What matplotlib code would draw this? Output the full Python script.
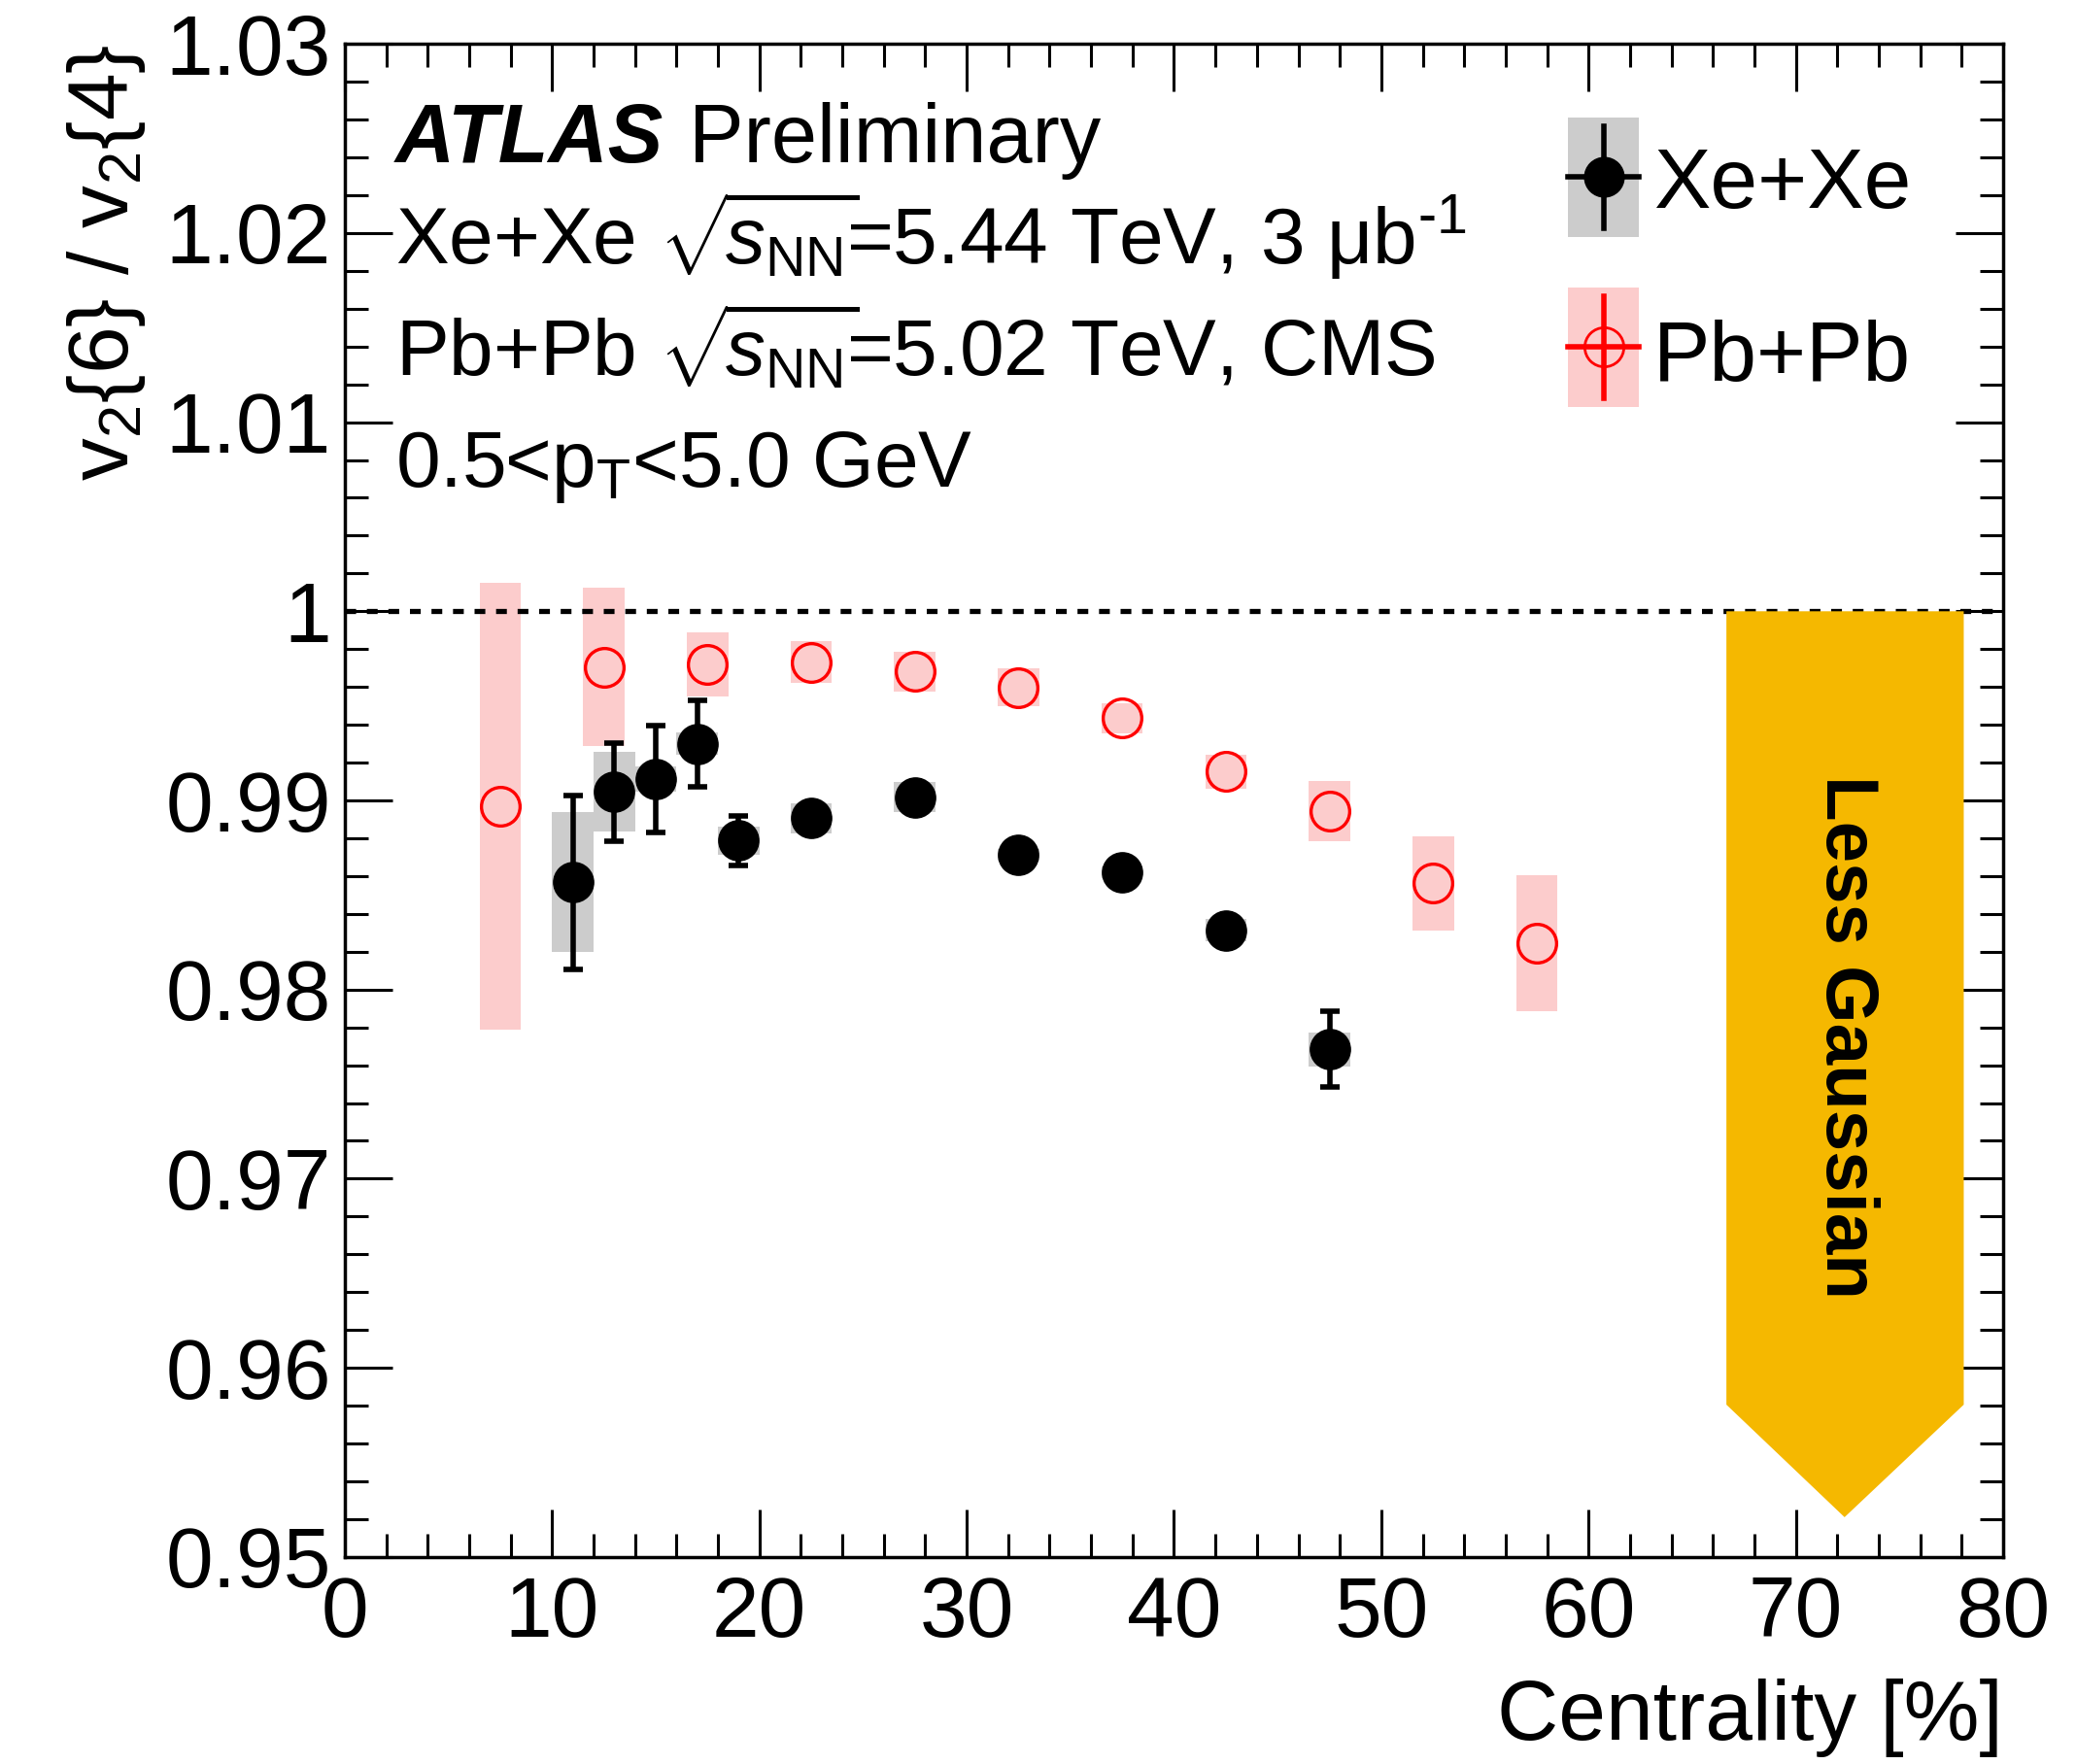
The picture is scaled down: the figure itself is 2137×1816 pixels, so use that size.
import matplotlib
matplotlib.use("Agg")
import matplotlib.pyplot as plt
import numpy as np
from matplotlib.ticker import MultipleLocator, FuncFormatter

plt.rcParams["font.family"] = ["Liberation Sans", "DejaVu Sans"]
plt.rcParams["mathtext.fontset"] = "custom"
plt.rcParams["mathtext.rm"] = "Liberation Sans"
plt.rcParams["mathtext.it"] = "Liberation Sans:italic"
plt.rcParams["mathtext.bf"] = "Liberation Sans:bold"

# Xe+Xe (ATLAS): centrality, v2{6}/v2{4}, stat and syst errors
xe_cent = [11, 13, 15, 17, 19, 22.5, 27.5, 32.5, 37.5, 42.5, 47.5]
xe_ratio = [0.98567, 0.99045, 0.99113, 0.99300, 0.98788, 0.98906, 0.99017, 0.98713, 0.98620, 0.98314, 0.97685]
xe_stat = [0.0046, 0.0026, 0.0028, 0.0023, 0.0013, 0.0003, 0.0003, 0.0003, 0.0003, 0.0003, 0.0020]
xe_syst = [0.0037, 0.0021, 0.00065, 0.0006, 0.00075, 0.0008, 0.0008, 0.0003, 0.0003, 0.0006, 0.0009]

# Pb+Pb (CMS)
pb_cent = [7.5, 12.5, 17.5, 22.5, 27.5, 32.5, 37.5, 42.5, 47.5, 52.5, 57.5]
pb_ratio = [0.98969, 0.99706, 0.99719, 0.99731, 0.99682, 0.99596, 0.99435, 0.99153, 0.98944, 0.98562, 0.98243]
pb_syst = [0.0118, 0.0042, 0.0017, 0.0011, 0.00105, 0.0010, 0.0008, 0.0009, 0.0016, 0.0025, 0.0036]

# "Less Gaussian" arrow outline (centrality, ratio)
arrow_x = [66.65, 78.1, 78.1, 72.35, 66.65]
arrow_y = [1.0, 1.0, 0.95805, 0.9521, 0.95805]

BOX_W = 2.0
XE_BOX, PB_BOX = "#cccccc", "#fccccc"
GOLD = "#f5b800"
FS = 63
TFS = 59

fig = plt.figure(figsize=(21.37, 18.16), dpi=100)
ax = fig.add_axes([0.16612, 0.11740, 0.79878, 0.85771])

# systematic boxes
ax.bar(pb_cent, 2 * np.array(pb_syst), bottom=np.array(pb_ratio) - np.array(pb_syst),
       width=BOX_W, color=PB_BOX, lw=0, zorder=1)
ax.bar(xe_cent, 2 * np.array(xe_syst), bottom=np.array(xe_ratio) - np.array(xe_syst),
       width=BOX_W, color=XE_BOX, lw=0, zorder=1.5)

ax.axhline(1.0, color="black", lw=3.8, dashes=(2.1, 2.1), zorder=2)

ax.errorbar(xe_cent, xe_ratio, yerr=xe_stat, fmt="none", ecolor="black",
            elinewidth=4, capsize=7.5, capthick=4, zorder=3)
ax.plot(xe_cent, xe_ratio, "o", color="black", ms=29.7, zorder=4)
ax.plot(pb_cent, pb_ratio, "o", mfc="none", mec="red", mew=2.4, ms=28.6, zorder=4)

ax.fill(arrow_x, arrow_y, color=GOLD, lw=0, zorder=5)
ax.text(72.4, 0.97747, "Less Gaussian", rotation=-90, ha="center", va="center",
        fontsize=55, fontweight="bold", zorder=6)

ax.set_xlim(0, 80)
ax.set_ylim(0.95, 1.03)
ax.xaxis.set_major_locator(MultipleLocator(10))
ax.xaxis.set_minor_locator(MultipleLocator(2))
ax.yaxis.set_major_locator(MultipleLocator(0.01))
ax.yaxis.set_minor_locator(MultipleLocator(0.002))
ax.yaxis.set_major_formatter(FuncFormatter(lambda v, p: f"{v:.2f}".rstrip("0").rstrip(".")))
ax.tick_params(which="both", direction="in", top=True, right=True, width=2.2, labelsize=FS)
ax.tick_params(which="major", length=35)
ax.tick_params(which="minor", length=17.5)
ax.tick_params(axis="x", pad=14)
ax.tick_params(axis="y", pad=10)
for s in ax.spines.values():
    s.set_linewidth(2.5)

ax.set_xlabel("Centrality [%]", loc="right", fontsize=FS, labelpad=18)
ax.set_ylabel(r"$\mathregular{v_{2}\{6\}\ /\ v_{2}\{4\}}$", loc="top", fontsize=FS)
ax.yaxis.set_label_coords(-0.119, 1.0)

# labels block
tr = ax.transAxes
t = ax.text(0.0303, 0.9221, "ATLAS", transform=tr, fontsize=61, fontweight="bold",
            style="italic", va="baseline")
ax.annotate("Preliminary", xy=(1, 0), xycoords=t, xytext=(19, 0), textcoords="offset points",
            va="bottom", fontsize=61)
ax.text(0.0303, 0.8544,
        r"Xe+Xe $\sqrt{\!s_{\mathrm{NN}}}\!$=5.44 TeV, 3 μb$^{\text{-1}}$",
        transform=tr, fontsize=TFS, va="baseline")
ax.text(0.0303, 0.7807, r"Pb+Pb $\sqrt{\!s_{\mathrm{NN}}}\!$=5.02 TeV, CMS",
        transform=tr, fontsize=TFS, va="baseline")
ax.text(0.0303, 0.7071, r"0.5<p$_{\mathrm{T}}$<5.0 GeV", transform=tr, fontsize=TFS, va="baseline")

# legend drawn by hand in axes coordinates
lx0, lx1 = 0.7376, 0.7803
lxc = (lx0 + lx1) / 2
ax.add_patch(plt.Rectangle((lx0, 0.8722), lx1 - lx0, 0.9512 - 0.8722, transform=tr,
                           color=XE_BOX, lw=0, zorder=6))
ax.plot([lxc, lxc], [0.878, 0.9454], transform=tr, color="black", lw=4, zorder=7)
ax.plot([lx0, lx1], [0.9122, 0.9122], transform=tr, color="black", lw=4, zorder=7)
ax.plot([lxc], [0.9122], "o", transform=tr, color="black", ms=29.3, zorder=8)
ax.text(0.789, 0.8916, "Xe+Xe", transform=tr, fontsize=FS, va="baseline")

ax.add_patch(plt.Rectangle((lx0, 0.7598), lx1 - lx0, 0.8388 - 0.7598, transform=tr,
                           color=PB_BOX, lw=0, zorder=6))
ax.plot([lxc, lxc], [0.7656, 0.833], transform=tr, color="red", lw=4, zorder=7)
ax.plot([lx0, lx1], [0.7996, 0.7996], transform=tr, color="red", lw=4, zorder=7)
ax.plot([lxc], [0.7996], "o", transform=tr, mfc="none", mec="red", mew=2, ms=29, zorder=8)
ax.text(0.789, 0.7775, "Pb+Pb", transform=tr, fontsize=FS, va="baseline")

fig.savefig("out.png", dpi=100)
